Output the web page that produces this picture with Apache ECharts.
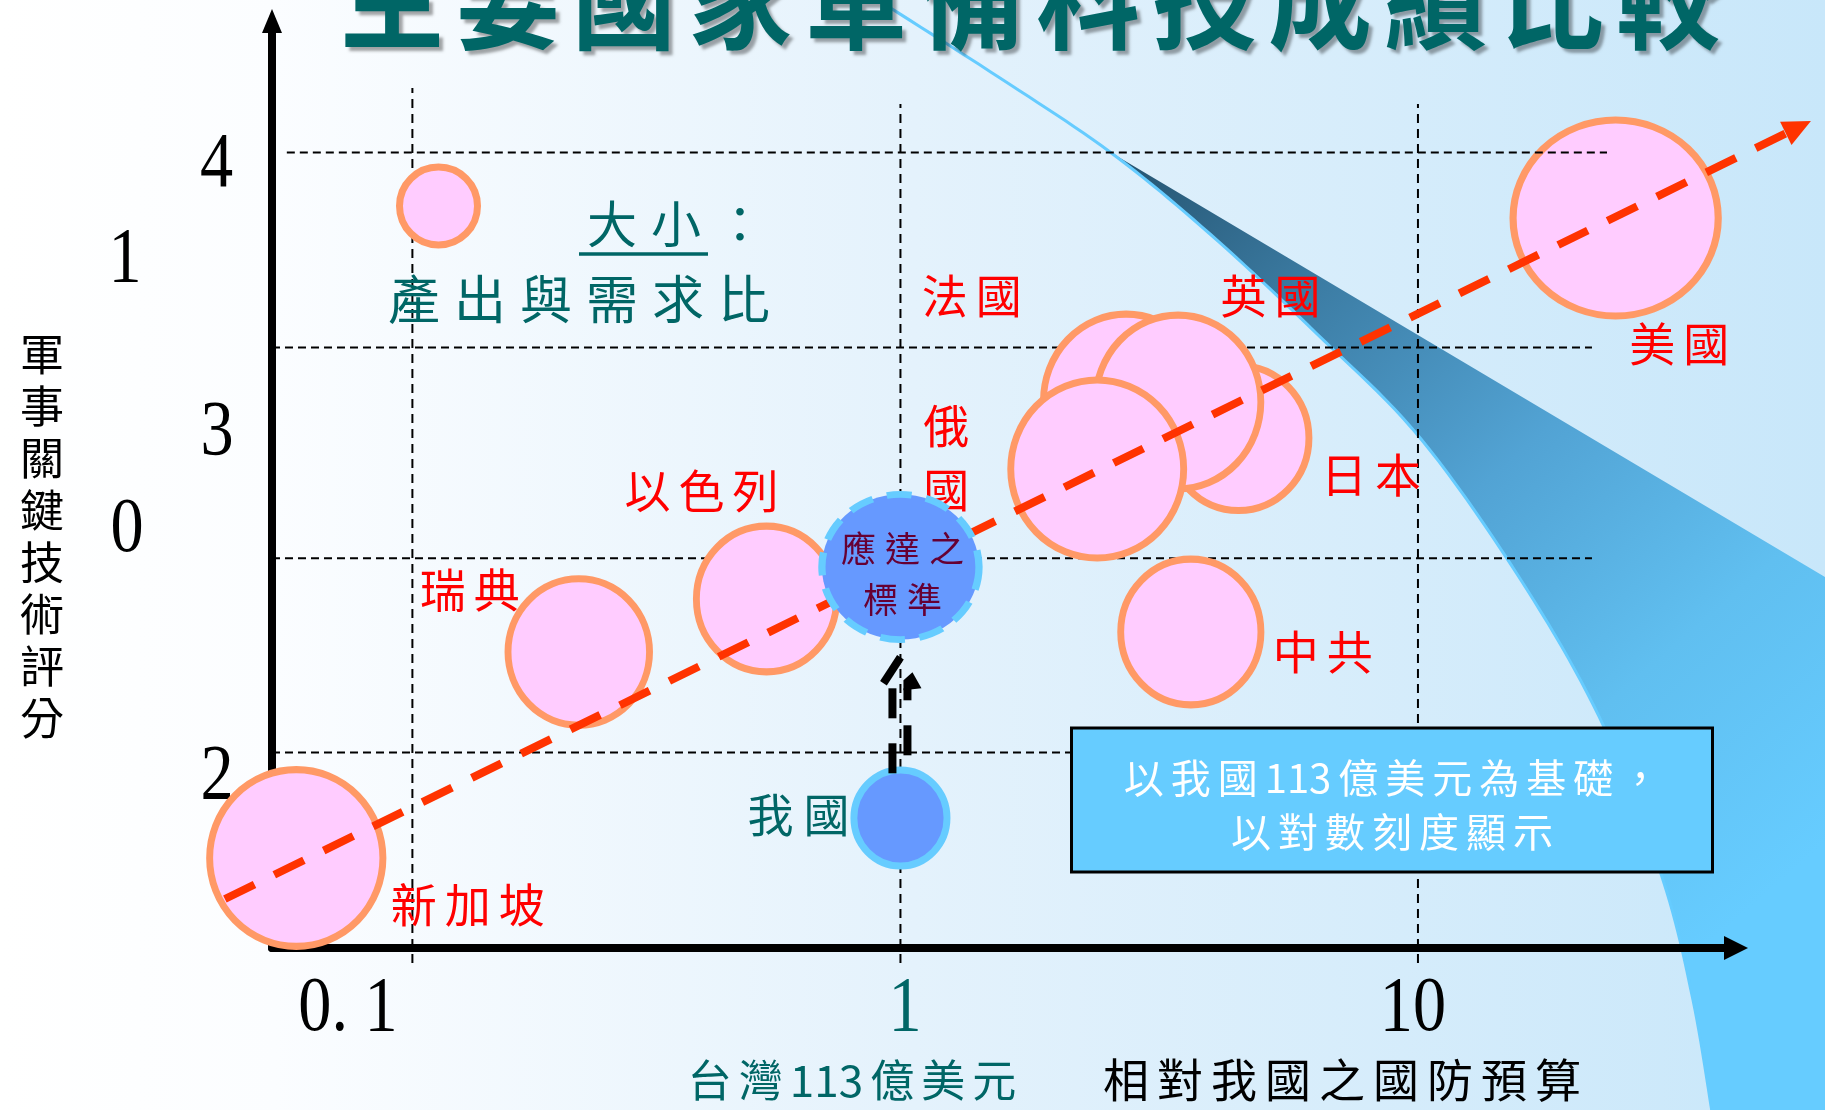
<!DOCTYPE html>
<html><head><meta charset="utf-8">
<script src="https://cdn.jsdelivr.net/npm/echarts@6/dist/echarts.min.js"></script>
<style>html,body{margin:0;padding:0;background:#fff}#c{width:1825px;height:1110px}</style>
</head><body><div id="c"></div>
<script>
// ---------------- data ----------------
const countries   = ['法國', '日本', '英國', '俄國', '新加坡', '瑞典', '以色列', '中共', '美國'];
const budgetRatio = [2.73, 4.50, 3.44, 2.40, 0.068, 0.239, 0.551, 3.64, 24.1];   // 相對我國之國防預算 (log)
const techScore   = [27.35, 25.5, 27.3, 23.95, 4.5, 14.8, 17.45, 15.8, 36.5];   // 軍事關鍵技術評分
const bubbleSize  = [1.695, 1.43, 1.695, 1.755, 1.75, 1.44, 1.43, 1.43, 2.005]; // 產出與需求比 (relative)
const refNames    = ['應達之標準', '我國'];
const refBudget   = [1.0, 1.0];
const refScore    = [19.05, 6.5];
const refSize     = [1.51, 0.945];
const trendX      = [0.0495, 57.46];
const trendY      = [2.45, 41.35];
const xGridValues = [0.114, 1, 10];
const yGridValues = [39.78, 30.03, 19.49, 9.77];
const xTickLabels = ['0. 1', '1', '10'];
const yTickLabels = ['4', '1', '3', '0', '2'];

// ---------------- styles / layout ----------------
const CJK = '"Noto Sans CJK TC","Noto Sans CJK SC",sans-serif';
const SERIF = '"Liberation Serif","DejaVu Serif",serif';
const TEAL = '#006666';
const X_MIN = 0.06104, X_MAX = 41.17, Y_MIN = 0, Y_MAX = 46.35;
const bubbleAspect = [1.05, 1.03, 1.05, 1.03, 1.02, 1.035, 1.04, 1.04, 0.955];
const refAspect = [0.924, 1.03];
const labelOffset = [[-154.5, -105], [132.5, 36.5], [92.5, -106], [-151, -11], [171.5, 47], [-109, -62.5], [-65, -108], [132, 20], [63.5, 126]];

function tok(parts, key) { return parts.map(c => '{' + key + '|' + c + '}').join(''); }
function chars(s) { return Array.from(s); }
function sz(d, a) { return [d * 100 / Math.sqrt(a), d * 100 * Math.sqrt(a)]; }

const chart = echarts.init(document.getElementById('c'), null, {renderer: 'canvas'});

// grid line series
const gridSeries = [];
const hStart = [0.0652, X_MIN, X_MIN, X_MIN];
const hEnd = [23.19, 21.69, 21.69, 21.69];
yGridValues.forEach((v, i) => gridSeries.push([[hStart[i], v], [hEnd[i], v]]));
const vTop = [43.0, 42.2, 42.2];
xGridValues.forEach((v, i) => gridSeries.push([[v, -0.75], [v, vTop[i]]]));

const series = gridSeries.map((d, i) => ({
  type: 'line', data: d, symbol: 'none', silent: true, clip: false, z: i === 0 ? 4 : 1,
  lineStyle: {color: '#000', width: 2, type: i < 4 ? [8, 5] : [9, 6]},
  emphasis: {disabled: true}
}));

const bubbleData = countries.map((n, i) => ({
  name: n,
  value: [budgetRatio[i], techScore[i], bubbleSize[i]],
  label: {offset: labelOffset[i]}
}));
series.push({
  type: 'scatter', z: 3, clip: false, silent: true,
  data: bubbleData,
  symbol: 'circle',
  symbolSize: (v, p) => sz(v[2], bubbleAspect[p.dataIndex]),
  itemStyle: {color: '#ffccff', borderColor: '#ff9966', borderWidth: 7, opacity: 1},
  emphasis: {disabled: true},
  label: {
    show: true, position: 'inside',
    formatter: p => p.name === '俄國' ? '{v|俄}\n{v|國}' : tok(chars(p.name), 'c'),
    rich: {
      c: {fontSize: 46, fontFamily: CJK, color: '#ff0000', padding: [0, 4]},
      v: {fontSize: 46, fontFamily: CJK, color: '#ff0000', lineHeight: 64}
    }
  }
});

// trend line (custom series so it can run past the axes, with arrow head)
series.push({
  type: 'custom', z: 4, silent: true, clip: false,
  encode: {x: [0, 2], y: [1, 3]},
  data: [[trendX[0], trendY[0], trendX[1], trendY[1]]],
  renderItem: (params, api) => {
    const p0 = api.coord([api.value(0), api.value(1)]);
    const p1 = api.coord([api.value(2), api.value(3)]);
    const dx = p1[0] - p0[0], dy = p1[1] - p0[1], L = Math.hypot(dx, dy), ux = dx / L, uy = dy / L;
    const head = 28, hw = 13;
    const b = [p1[0] - ux * head, p1[1] - uy * head];
    return {type: 'group', children: [
      {type: 'line', shape: {x1: p0[0], y1: p0[1], x2: b[0] + ux * 3, y2: b[1] + uy * 3},
       style: {stroke: '#ff3300', lineWidth: 8, lineDash: [33, 22], fill: null}},
      {type: 'polygon', shape: {points: [p1, [b[0] - uy * hw, b[1] + ux * hw], [b[0] + uy * hw, b[1] - ux * hw]]},
       style: {fill: '#ff3300'}}
    ]};
  }
});

// reference (standard & Taiwan)
series.push({
  type: 'scatter', z: 5, clip: false, silent: true,
  symbol: 'circle',
  symbolSize: (v, p) => sz(v[2], refAspect[p.dataIndex]),
  itemStyle: {opacity: 1},
  emphasis: {disabled: true},
  data: [
    {name: refNames[0], value: [refBudget[0], refScore[0], refSize[0]],
     itemStyle: {color: '#6699ff', borderColor: '#66ccff', borderWidth: 7, borderType: [24, 14], opacity: 1},
     label: {show: true, position: 'inside', offset: [2, 7.5],
       formatter: tok(chars('應達之'), 's') + '\n' + tok(chars('標準'), 's'),
       rich: {s: {fontSize: 35, fontFamily: CJK, color: '#660033', padding: [0, 4.5], lineHeight: 51}}}},
    {name: refNames[1], value: [refBudget[1], refScore[1], refSize[1]],
     itemStyle: {color: '#6699ff', borderColor: '#66ccff', borderWidth: 7, opacity: 1},
     label: {show: true, position: 'inside', offset: [-102, -3],
       formatter: tok(chars('我國'), 't'),
       rich: {t: {fontSize: 46, fontFamily: CJK, color: TEAL, padding: [0, 5]}}}}
  ]
});

const option = {
  animation: false,
  backgroundColor: '#ffffff',
  grid: {left: 272, right: 89, top: 21, bottom: 162, containLabel: false},
  xAxis: {
    type: 'log', logBase: 10, min: X_MIN, max: X_MAX,
    axisLine: {show: true, onZero: false, symbol: ['none', 'triangle'], symbolSize: [24, 24],
      lineStyle: {color: '#000', width: 8}},
    axisTick: {show: false}, axisLabel: {show: false}, splitLine: {show: false}
  },
  yAxis: {
    type: 'value', min: Y_MIN, max: Y_MAX,
    axisLine: {show: true, onZero: false, symbol: ['none', 'triangle'], symbolSize: [20, 24],
      lineStyle: {color: '#000', width: 8}},
    axisTick: {show: false}, axisLabel: {show: false}, splitLine: {show: false}
  },
  series: series
};
chart.setOption(option);

// ---------------- decorations (graphic) ----------------
function catmull(pts, n) {
  const out = [];
  for (let i = 0; i < pts.length - 1; i++) {
    const p0 = pts[Math.max(0, i - 1)], p1 = pts[i], p2 = pts[i + 1], p3 = pts[Math.min(pts.length - 1, i + 2)];
    for (let t = 0; t < n; t++) {
      const s = t / n, s2 = s * s, s3 = s2 * s;
      const f = k => 0.5 * ((2 * p1[k]) + (-p0[k] + p2[k]) * s + (2 * p0[k] - 5 * p1[k] + 4 * p2[k] - p3[k]) * s2 + (-p0[k] + 3 * p1[k] - 3 * p2[k] + p3[k]) * s3);
      out.push([f(0), f(1)]);
    }
  }
  out.push(pts[pts.length - 1]);
  return out;
}
const curveCtl = [[878, 0], [1000, 78], [1110, 152], [1210, 234], [1316, 333], [1421, 439], [1526, 588], [1605, 729], [1663, 880], [1693, 1000], [1712, 1112]];
const curve = catmull(curveCtl, 12);
const bandPts = curve.filter(p => p[0] >= 1110).concat([[1830, 1112], [1830, 580], [1110, 152]]);

function gtext(x, y, text, rich, extra) {
  return Object.assign({type: 'text', x: x, y: y, z: 30, silent: true,
    style: {text: text, rich: rich, align: 'center', verticalAlign: 'middle'}}, extra || {});
}
function rs(size, fill, pad, fam, extra) {
  return Object.assign({fontSize: size, fontFamily: fam || CJK, fill: fill, padding: [0, pad]}, extra || {});
}

const T = chart.convertToPixel({xAxisIndex: 0, yAxisIndex: 0}, [refBudget[1], refScore[1]]);
const arrowSegs = [
  [[-8, -44.7], [-8, -74.7]],
  [[-8, -99.7], [-8, -129.7]],
  [[-17, -134.7], [0, -160.7]],
  [[7, -62.7], [7, -92.7]],
  [[7, -117.7], [7, -129.7]]
];

const graphics = [
  {type: 'rect', z: -100, silent: true, shape: {x: 0, y: 0, width: 1825, height: 1110},
   style: {fill: {type: 'linear', x: 0, y: 0, x2: 1, y2: 0, colorStops: [
     {offset: 0, color: '#ffffff'}, {offset: 0.15, color: '#fbfdff'}, {offset: 0.5, color: '#e4f2fc'}, {offset: 1, color: '#c8e7fa'}]}}},
  {type: 'polygon', z: -90, silent: true, shape: {points: bandPts},
   style: {fill: {type: 'linear', x: 1110, y: 152, x2: 1760, y2: 900, global: true, colorStops: [
     {offset: 0, color: '#24526e'}, {offset: 0.25, color: '#3d7ea6'}, {offset: 0.5, color: '#52a3d4'},
     {offset: 0.75, color: '#60bff0'}, {offset: 1, color: '#66ccff'}]}}},
  {type: 'polyline', z: -89, silent: true, shape: {points: curve},
   style: {stroke: '#66ccff', lineWidth: 3, fill: null}},
  // title
  gtext(1030, -3, tok(chars('主要國家軍備科技成績比較'), 't'),
    {t: rs(104, TEAL, 6, CJK, {fontWeight: 'bold', textShadowColor: 'rgba(0,0,0,0.35)', textShadowOffsetX: 4, textShadowOffsetY: 4, textShadowBlur: 3})},
    {scaleY: 1.1}),
  // y axis title
  gtext(42, 536, chars('軍事關鍵技術評分').map(c => '{a|' + c + '}').join('\n'),
    {a: {fontSize: 44, fontFamily: CJK, fill: '#000', lineHeight: 52}}),
  // bottom titles
  gtext(852, 1080, tok(['台', '灣', '113', '億', '美', '元'], 'b'), {b: rs(44, TEAL, 3.5)}),
  gtext(1342, 1080, tok(chars('相對我國之國防預算'), 'b'), {b: rs(46, '#000', 4)}),
  // legend
  {type: 'circle', z: 20, silent: true, shape: {cx: 438.5, cy: 206, r: 39},
   style: {fill: '#ffccff', stroke: '#ff9966', lineWidth: 7}},
  gtext(676, 223.5, tok(['大', '小', '：'], 'l'), {l: rs(50, TEAL, 7)}),
  {type: 'line', z: 30, silent: true, shape: {x1: 579, y1: 254, x2: 708, y2: 254},
   style: {stroke: TEAL, lineWidth: 3.5}},
  gtext(579, 299, tok(chars('產出與需求比'), 'l'), {l: rs(52, TEAL, 7)}),
  // note box
  {type: 'rect', z: 25, silent: true, shape: {x: 1071.5, y: 728, width: 641, height: 144},
   style: {fill: '#66ccff', stroke: '#000', lineWidth: 3}},
  gtext(1392, 778, tok(['以', '我', '國', '113', '億', '美', '元', '為', '基', '礎', '，'], 'w'), {w: rs(40, '#ffffff', 3.5)}),
  gtext(1392, 832, tok(chars('以對數刻度顯示'), 'w'), {w: rs(40, '#ffffff', 3.5)}),
  // dashed arrow head
  {type: 'polygon', z: 12, silent: true,
   shape: {points: [[T[0] + 3, T[1] - 127.7], [T[0] + 3, T[1] - 137.7], [T[0] + 12, T[1] - 145.7], [T[0] + 21, T[1] - 129.7]]},
   style: {fill: '#000'}}
];
arrowSegs.forEach(s => graphics.push({type: 'line', z: 12, silent: true,
  shape: {x1: T[0] + s[0][0], y1: T[1] + s[0][1], x2: T[0] + s[1][0], y2: T[1] + s[1][1]},
  style: {stroke: '#000', lineWidth: 8}}));

// tick labels
const xTickPos = [[348, 1010, '#000'], [905, 1010, TEAL], [1413, 1010, '#000']];
xTickLabels.forEach((s, i) => graphics.push(gtext(xTickPos[i][0], xTickPos[i][1], '{n|' + s + '}',
  {n: {fontSize: 78, fontFamily: SERIF, fill: xTickPos[i][2]}}, {z: 1, scaleX: 0.85})));
const yTickPos = [[216.5, 166], [125, 261], [217, 434], [127, 531], [217, 778]];
yTickLabels.forEach((s, i) => graphics.push(gtext(yTickPos[i][0], yTickPos[i][1], '{n|' + s + '}',
  {n: {fontSize: 78, fontFamily: SERIF, fill: '#000'}}, {z: 1, scaleX: 0.85})));

chart.setOption({graphic: {elements: graphics}});
</script>
</body></html>
